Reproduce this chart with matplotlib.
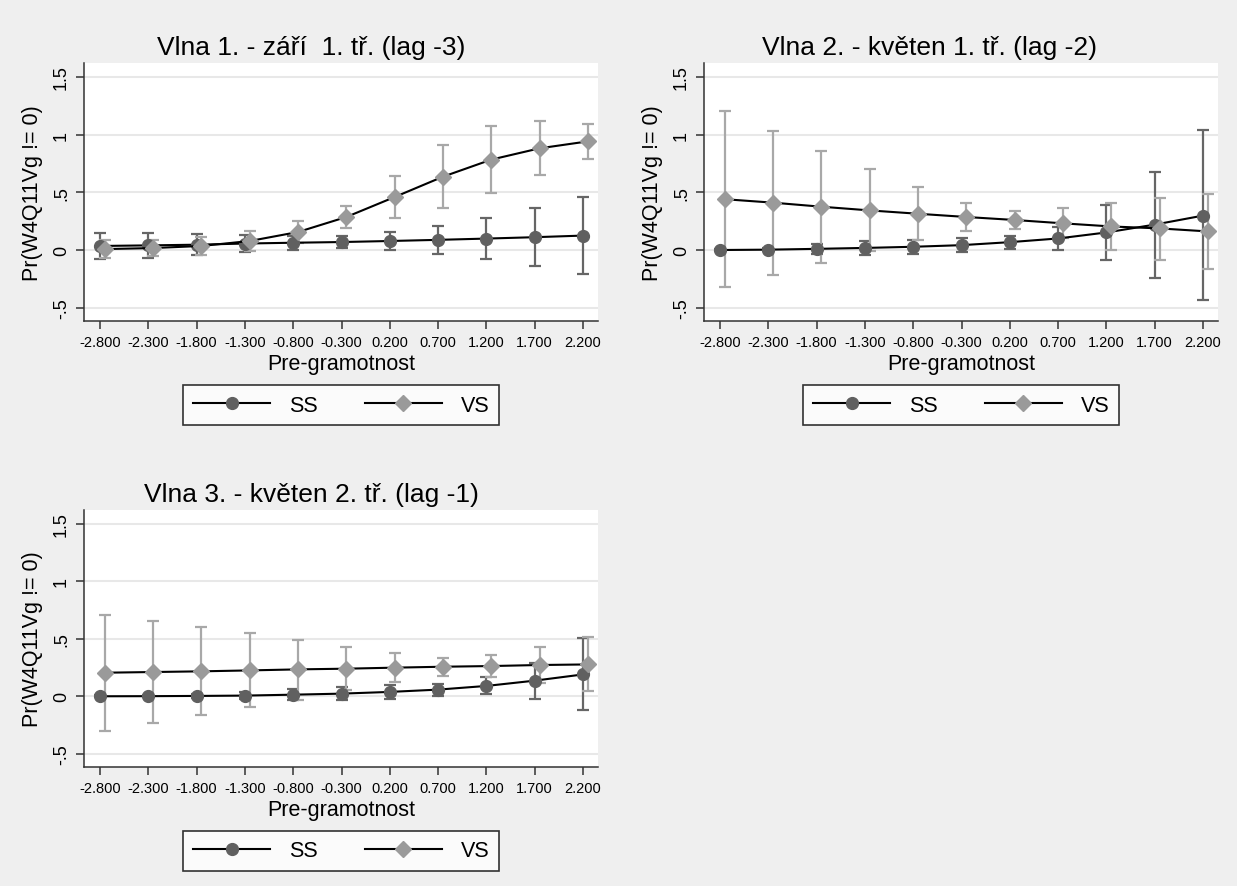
import matplotlib
matplotlib.use("Agg")
import matplotlib.pyplot as plt
from matplotlib.lines import Line2D
import numpy as np

plt.rcParams['font.family'] = ['Liberation Sans', 'DejaVu Sans']

# ---------------- data ----------------
x_levels = [-2.8, -2.3, -1.8, -1.3, -0.8, -0.3, 0.2, 0.7, 1.2, 1.7, 2.2]
x_ticklabels = ["-2.800", "-2.300", "-1.800", "-1.300", "-0.800", "-0.300",
                "0.200", "0.700", "1.200", "1.700", "2.200"]
y_ticks = [-0.5, 0, 0.5, 1, 1.5]
y_ticklabels = ["-.5", "0", ".5", "1", "1.5"]

titles = ["Vlna 1. - září  1. tř. (lag -3)",
          "Vlna 2. - květen 1. tř. (lag -2)",
          "Vlna 3. - květen 2. tř. (lag -1)"]
xlabel = "Pre-gramotnost"
ylabel = "Pr(W4Q11Vg != 0)"
series_names = ["SS", "VS"]

# Wave 1
w1_ss = [0.035, 0.040, 0.046, 0.056, 0.063, 0.069, 0.078, 0.088, 0.099, 0.111, 0.125]
w1_ss_lo = [-0.080, -0.067, -0.046, -0.020, 0.003, 0.015, 0.003, -0.032, -0.078, -0.139, -0.208]
w1_ss_hi = [0.150, 0.147, 0.140, 0.130, 0.124, 0.120, 0.153, 0.208, 0.277, 0.361, 0.462]
w1_vs = [0.008, 0.017, 0.035, 0.078, 0.156, 0.286, 0.459, 0.635, 0.783, 0.881, 0.941]
w1_vs_lo = [-0.070, -0.050, -0.040, -0.005, 0.063, 0.188, 0.275, 0.364, 0.494, 0.653, 0.789]
w1_vs_hi = [0.090, 0.090, 0.110, 0.165, 0.248, 0.384, 0.641, 0.910, 1.070, 1.115, 1.095]

# Wave 2
w2_ss = [0.000, 0.003, 0.010, 0.018, 0.028, 0.042, 0.068, 0.100, 0.152, 0.220, 0.298]
w2_ss_lo = [-0.008, -0.010, -0.038, -0.043, -0.035, -0.017, 0.010, 0.000, -0.090, -0.240, -0.434]
w2_ss_hi = [0.008, 0.016, 0.050, 0.075, 0.090, 0.100, 0.121, 0.200, 0.393, 0.675, 1.036]
w2_vs = [0.440, 0.410, 0.375, 0.343, 0.314, 0.286, 0.260, 0.231, 0.204, 0.187, 0.161]
w2_vs_lo = [-0.320, -0.215, -0.114, -0.010, 0.084, 0.164, 0.185, 0.105, 0.000, -0.090, -0.167]
w2_vs_hi = [1.200, 1.030, 0.860, 0.700, 0.545, 0.410, 0.335, 0.360, 0.410, 0.450, 0.487]

# Wave 3
w3_ss = [0.000, 0.001, 0.003, 0.006, 0.014, 0.023, 0.038, 0.058, 0.090, 0.136, 0.190]
w3_ss_lo = [-0.008, -0.010, -0.012, -0.025, -0.030, -0.030, -0.020, 0.003, 0.017, -0.023, -0.118]
w3_ss_hi = [0.008, 0.012, 0.018, 0.040, 0.066, 0.080, 0.100, 0.110, 0.168, 0.290, 0.503]
w3_vs = [0.205, 0.211, 0.217, 0.225, 0.234, 0.240, 0.249, 0.257, 0.263, 0.272, 0.277]
w3_vs_lo = [-0.300, -0.234, -0.165, -0.095, -0.032, 0.052, 0.121, 0.176, 0.165, 0.118, 0.043]
w3_vs_hi = [0.711, 0.653, 0.600, 0.552, 0.488, 0.428, 0.376, 0.335, 0.358, 0.430, 0.514]

waves = [
    (w1_ss, w1_ss_lo, w1_ss_hi, w1_vs, w1_vs_lo, w1_vs_hi),
    (w2_ss, w2_ss_lo, w2_ss_hi, w2_vs, w2_vs_lo, w2_vs_hi),
    (w3_ss, w3_ss_lo, w3_ss_hi, w3_vs, w3_vs_lo, w3_vs_hi),
]

# ---------------- style ----------------
W, H = 1237, 887
BG = "#efefef"
SS_COL = "#606060"
SS_ERR = "#666666"
VS_COL = "#9a9a9a"
VS_ERR = "#a8a8a8"
GRID = "#e8e8e8"
VS_SHIFT = 0.05

fig = plt.figure(figsize=(W / 100, H / 100), dpi=100)
fig.patch.set_facecolor(BG)

# axes boxes in pixels: (left, top, right, bottom)
boxes = [(84, 64, 598, 322), (704, 64, 1218, 322), (84, 511, 598, 768)]
title_cx = [311, 929, 311]

def px(l, t, r, b):
    return [l / W, 1 - b / H, (r - l) / W, (b - t) / H]

for i, (box, data) in enumerate(zip(boxes, waves)):
    ss, ss_lo, ss_hi, vs, vs_lo, vs_hi = [np.array(v) for v in data]
    xs = np.array(x_levels)
    xv = xs + VS_SHIFT
    ax = fig.add_axes(px(*box))
    ax.set_facecolor("white")
    ax.set_xlim(-2.966, 2.355)
    ax.set_ylim(-0.615, 1.62)
    for yt in y_ticks:
        ax.axhline(yt, color=GRID, lw=1.5, zorder=0)

    ax.errorbar(xs, ss, yerr=[ss - ss_lo, ss_hi - ss], fmt='none', ecolor=SS_ERR,
                elinewidth=1.6, capsize=4.5, capthick=1.6, zorder=2)
    ax.errorbar(xv, vs, yerr=[vs - vs_lo, vs_hi - vs], fmt='none', ecolor=VS_ERR,
                elinewidth=1.6, capsize=4.5, capthick=1.6, zorder=2)
    ax.plot(xs, ss, color="black", lw=1.5, marker='o', markersize=8.5,
            markerfacecolor=SS_COL, markeredgecolor=SS_COL, zorder=3)
    ax.plot(xv, vs, color="black", lw=1.5, marker='D', markersize=8.5,
            markerfacecolor=VS_COL, markeredgecolor=VS_COL, zorder=4)

    ax.set_xticks(x_levels)
    ax.set_xticklabels(x_ticklabels, fontsize=10.5)
    ax.set_yticks(y_ticks)
    ax.set_yticklabels(y_ticklabels, fontsize=13, rotation=90, va='center')
    ax.tick_params(axis='both', direction='out', length=6, width=1.1, color="#333333")
    ax.tick_params(axis='x', pad=4)
    ax.tick_params(axis='y', pad=4)
    for s in ['top', 'right']:
        ax.spines[s].set_visible(False)
    for s in ['left', 'bottom']:
        ax.spines[s].set_color("#333333")
        ax.spines[s].set_linewidth(1.1)
    ax.set_xlabel(xlabel, fontsize=15.5, labelpad=3)
    ax.set_ylabel(ylabel, fontsize=15.5, labelpad=7)

    l, t, r, b = box
    fig.text(title_cx[i] / W, 1 - (t - 16) / H, titles[i], fontsize=19,
             ha='center', va='center')

    handles = [
        Line2D([0], [0], color="black", lw=1.5, marker='o', markersize=8.5,
               markerfacecolor=SS_COL, markeredgecolor=SS_COL),
        Line2D([0], [0], color="black", lw=1.5, marker='D', markersize=8.5,
               markerfacecolor=VS_COL, markeredgecolor=VS_COL),
    ]
    leg = fig.legend(handles, series_names, loc='center',
                     bbox_to_anchor=((l + r) / 2 / W, 1 - (b + 84) / H),
                     ncol=2, fontsize=15.5, frameon=True, fancybox=False,
                     handlelength=3.6, handletextpad=0.85, columnspacing=2.2,
                     borderpad=0.45, edgecolor="black")
    leg.get_frame().set_linewidth(1.2)
    leg.get_frame().set_facecolor("white")

fig.savefig("out.png", dpi=100, facecolor=BG)
